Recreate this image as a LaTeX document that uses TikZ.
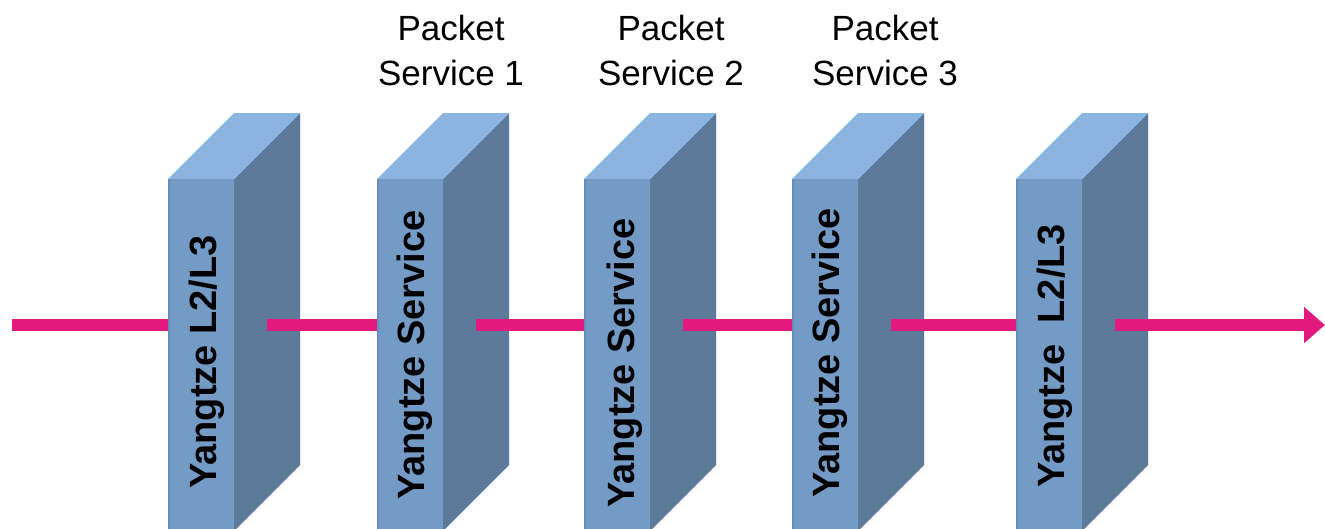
\documentclass[tikz,border=0pt]{standalone}
\usepackage{fontspec}
\setmainfont{Liberation Sans}
\usetikzlibrary{arrows.meta}
\definecolor{frontc}{RGB}{116,155,198}
\definecolor{topc}{RGB}{139,180,224}
\definecolor{sidec}{RGB}{92,122,153}
\definecolor{edgec}{RGB}{104,141,186}
\definecolor{pinkc}{RGB}{227,26,126}
% #1 left x of front face, #2 name, #3 text, #4 baseline x, #5 centre y
\newcommand\drawslab[5]{%
  \fill[sidec] (#1+66,179) -- (#1+132,113) -- (#1+132,465) -- (#1+66,531) -- cycle;
  \fill[topc] (#1,179) -- (#1+66,179) -- (#1+132,113) -- (#1+66,113) -- cycle;
  \fill[frontc] (#1,179) rectangle (#1+66,531);
  \draw[edgec, line width=1.5pt] (#1+0.75,179) -- (#1+0.75,531);
  \node[slabtxt] (#2) at (#4,#5) {#3};
  \coordinate (#2in) at (#1,325);
  \coordinate (#2out) at (#1+99,325);
}
\begin{document}
\begin{tikzpicture}[x=1pt,y=-1pt,
  flow/.style={line width=12pt, draw=pinkc},
  slabtxt/.style={rotate=90, anchor=base, font=\fontsize{38}{44}\selectfont\bfseries, inner sep=0pt},
  lbl/.style={align=center, anchor=north, font=\fontsize{35}{45}\selectfont, inner sep=0pt}]
\useasboundingbox (0,0) rectangle (1325,528);
\clip (0,0) rectangle (1325,528);
\fill[white] (0,0) rectangle (1325,528);
\drawslab{168}{s1}{Yangtze L2/L3}{216}{362}
\drawslab{377}{s2}{Yangtze Service}{424}{355}
\drawslab{584}{s3}{Yangtze Service}{634}{363}
\drawslab{792}{s4}{Yangtze Service}{839}{353}
\drawslab{1016}{s5}{Yangtze\ \ L2/L3}{1064}{356}
\coordinate (start) at (12,325);
\coordinate (end) at (1325,325);
\draw[flow] (start) -- (s1in);
\draw[flow] (s1out) -- (s2in);
\draw[flow] (s2out) -- (s3in);
\draw[flow] (s3out) -- (s4in);
\draw[flow] (s4out) -- (s5in);
\draw[flow, -{Triangle[length=21pt,width=35pt]}] (s5out) -- (end);
\node[lbl] (p1) at (451,14.5) {Packet\\Service 1};
\node[lbl] (p2) at (671,14.5) {Packet\\Service 2};
\node[lbl] (p3) at (885,14.5) {Packet\\Service 3};
\end{tikzpicture}
\end{document}
